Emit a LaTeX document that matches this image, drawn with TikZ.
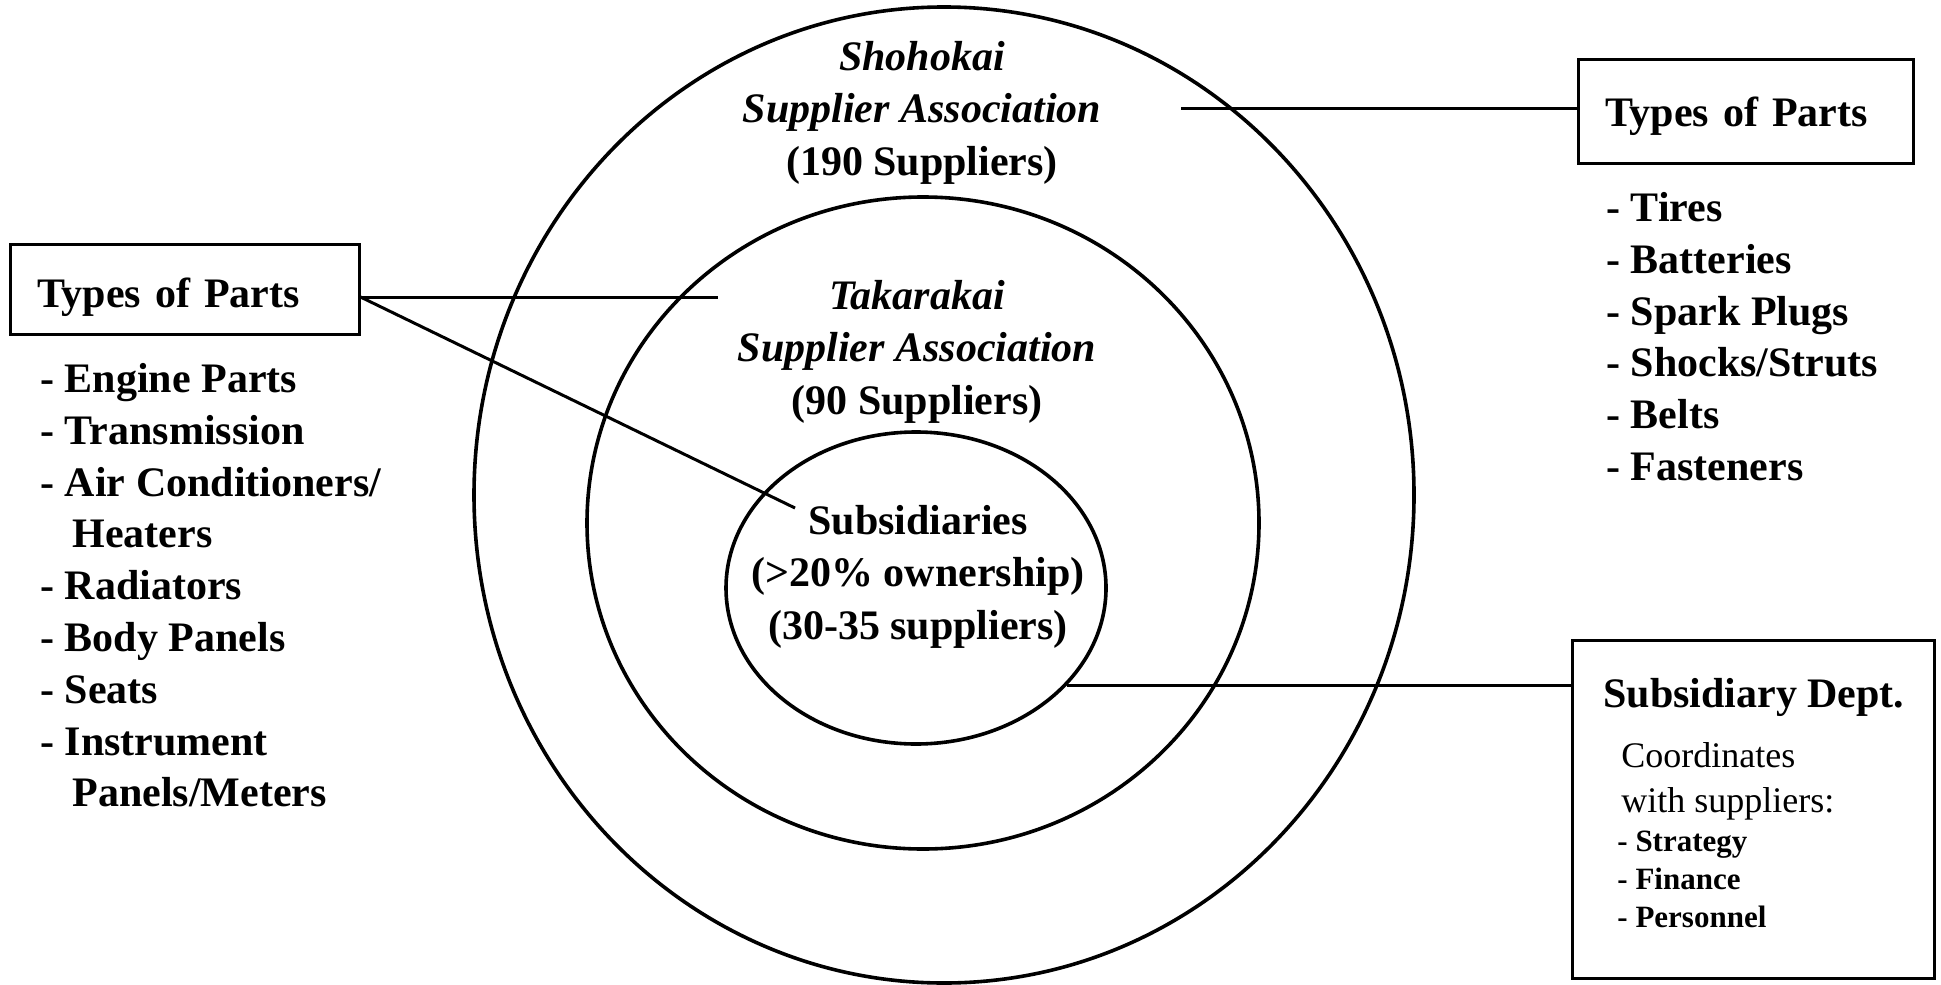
\documentclass[tikz,border=0pt]{standalone}
\usepackage{fontspec}
\setmainfont{Liberation Serif}
\usetikzlibrary{shapes.geometric,calc}
\begin{document}
\begin{tikzpicture}[x=0.5pt,y=-0.5pt,
  ring/.style={draw, ellipse, line width=1.8pt, inner sep=0pt},
  box/.style={draw, rectangle, line width=1.5pt, inner sep=0pt},
  link/.style={line width=1.5pt},
  bigtxt/.style={font=\fontsize{21}{26.2}\selectfont\bfseries, inner sep=0pt},
  listtxt/.style={font=\fontsize{21}{25.9}\selectfont\bfseries, inner sep=0pt, align=left},
  midtxt/.style={font=\fontsize{18}{22}\selectfont, inner sep=0pt},
  smalltxt/.style={font=\fontsize{15.5}{19}\selectfont\bfseries, inner sep=0pt}
]
\useasboundingbox (0,0) rectangle (1941,984);

% rings
\node[ring, minimum width=470pt, minimum height=488pt] (outer) at (944,495) {};
\node[ring, minimum width=336pt, minimum height=326pt] (middle) at (923,523) {};
\node[ring, minimum width=190pt, minimum height=156pt] (inner) at (916,588) {};

% ring texts
\node[bigtxt, anchor=north, align=center] (shotxt) at (922,41)
  {{\itshape Shohokai}\\{\itshape Supplier Association}\\(190 Suppliers)};
\node[bigtxt, anchor=north, align=center] (takatxt) at (917,280)
  {{\itshape Takarakai}\\{\itshape Supplier Association}\\(90 Suppliers)};
\node[bigtxt, anchor=north, align=center] (subtxt) at (918,505)
  {Subsidiaries\\(>20\% ownership)\\(30-35 suppliers)};

% left box and list
\node[box, bigtxt, inner xsep=13.5pt, text width=147.5pt, align=left,
      text height=18.5pt, text depth=0pt,
      minimum height=45pt] (lbox) at (184.5,289) {Types of Parts};
\node[listtxt, anchor=north west] (llist) at (40,363)
  {- Engine Parts\\- Transmission\\- Air Conditioners/\\\hspace*{16pt}Heaters\\- Radiators\\- Body Panels\\- Seats\\- Instrument\\\hspace*{16pt}Panels/Meters};

% right top box and list
\node[box, bigtxt, inner xsep=13.5pt, text width=140.5pt, align=left,
      text height=15pt, text depth=0pt,
      minimum height=52pt] (trbox) at (1745.5,112) {Types of Parts};
\node[listtxt, anchor=north west] (rlist) at (1606,192)
  {- Tires\\- Batteries\\- Spark Plugs\\- Shocks/Struts\\- Belts\\- Fasteners};

% subsidiary dept box
\node[box, minimum width=181pt, minimum height=169pt] (subbox) at (1753,809) {};
\node[bigtxt, anchor=base west] (sd1) at (1603,707) {Subsidiary Dept.};
\node[midtxt, anchor=base west] (sd2) at (1621,767) {Coordinates};
\node[midtxt, anchor=base west] (sd3) at (1621,812) {with suppliers:};
\node[smalltxt, anchor=base west] (sd4) at (1617,851) {- Strategy};
\node[smalltxt, anchor=base west] (sd5) at (1617,889) {- Finance};
\node[smalltxt, anchor=base west] (sd6) at (1617,927) {- Personnel};

% connectors
\coordinate (tl) at (1181,109);
\draw[link] (tl) -- (tl -| trbox.west);
\coordinate (le1) at (718,297);
\coordinate (le2) at (795,508);
\draw[link] ([yshift=-4pt]lbox.east) -- (le1);
\draw[link] ([yshift=-4pt]lbox.east) -- (le2);
\draw[link] (inner.-33.7) -- (inner.-33.7 -| subbox.west);
\end{tikzpicture}
\end{document}
